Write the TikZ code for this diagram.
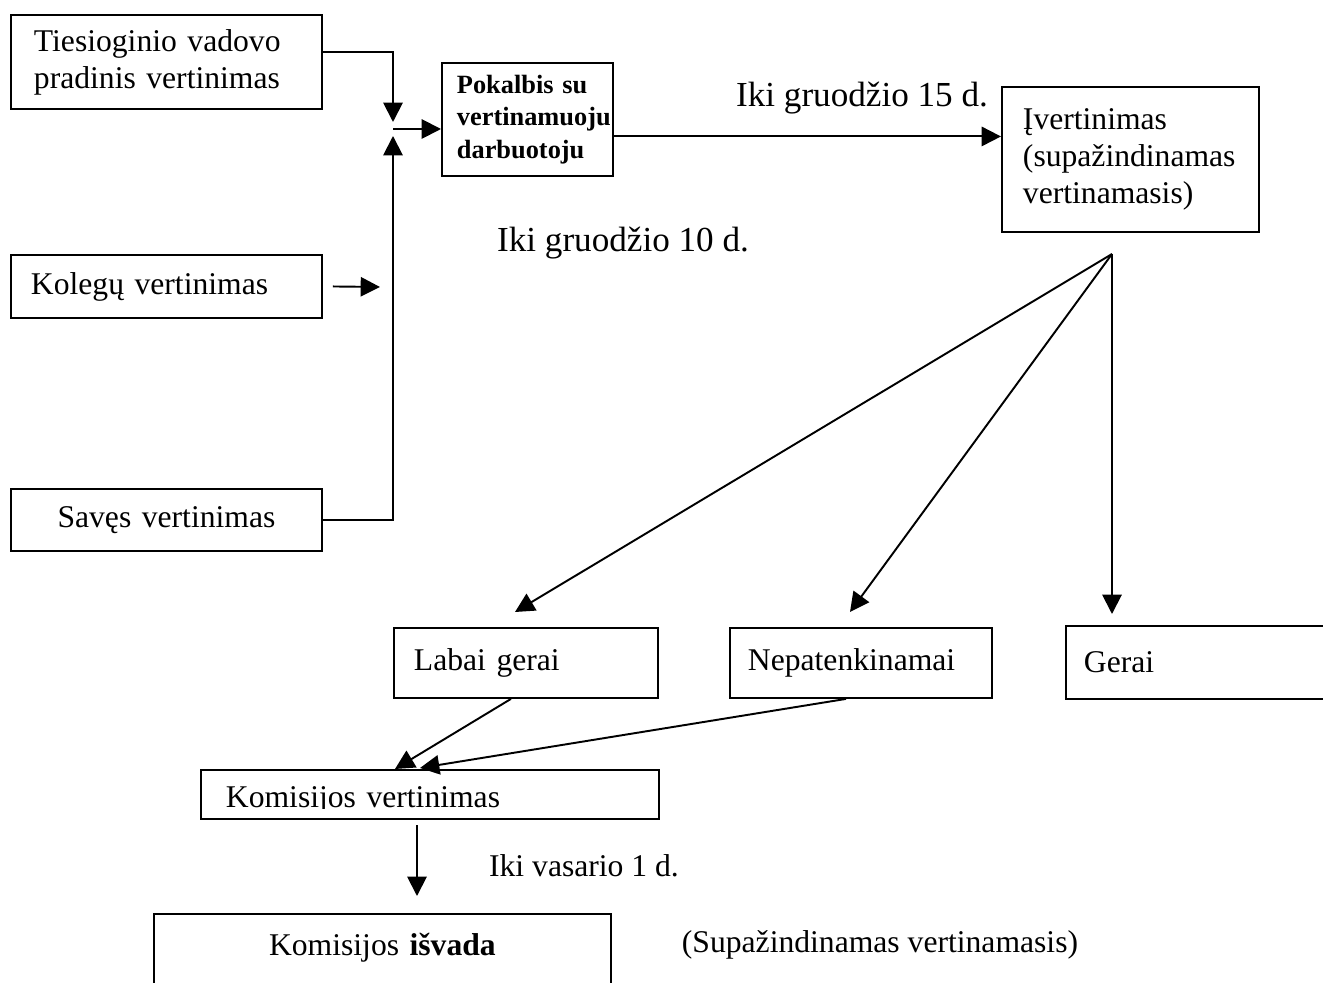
\documentclass[tikz,border=0pt]{standalone}
\usepackage{fontspec}
\setmainfont{Liberation Serif}
\usetikzlibrary{arrows.meta}

\begin{document}
\begin{tikzpicture}[x=0.02cm,y=-0.02cm,
    blk/.style={rectangle,draw,line width=1.1pt,anchor=north west,align=left,
                font=\fontsize{18}{21}\selectfont},
    lbl/.style={font=\fontsize{18}{21}\selectfont},
    arr/.style={line width=1.1pt,-{Triangle[length=11pt,width=11pt]}}]
\useasboundingbox (0,0) rectangle (1323,983);
\clip (0,0) rectangle (1323,983);
% left column
\node (tiesioginis) at (10,14)  [blk,text width=5.3cm,inner xsep=0.46cm,minimum height=1.88cm] {Tiesioginio vadovo\\pradinis vertinimas};
\node (kolegos)     at (10,254) [blk,text width=5.42cm,inner xsep=0.4cm,minimum height=1.26cm] {Kolegų vertinimas};
\node (saves)       at (10,488) [blk,align=center,text width=5.42cm,inner xsep=0.4cm,minimum height=1.24cm] {Savęs vertinimas};
% top row
\node (pokalbis)    at (441,62) [blk,text width=2.82cm,inner xsep=0.3cm,minimum height=2.26cm,
                                 font=\fontsize{15}{18.5}\selectfont\bfseries] {Pokalbis su\\vertinamuoju\\darbuotoju};
\node (ivertinimas) at (1001,86) [blk,text width=4.3cm,inner xsep=0.42cm,minimum height=2.9cm] {Įvertinimas\\(supažindinamas\\vertinamasis)};
% results
\node (labai)       at (393,627)  [blk,text width=4.48cm,inner xsep=0.4cm,minimum height=1.4cm] {Labai gerai};
\node (nepat)       at (729,627)  [blk,text width=4.52cm,inner xsep=0.36cm,minimum height=1.4cm] {Nepatenkinamai};
\node (gerai)       at (1065,625) [blk,text width=4.44cm,inner xsep=0.36cm,minimum height=1.46cm] {Gerai};
% commission
\begin{scope}
\clip (150,760) rectangle (700,808);
\node (komisija) at (201,770) [blk,draw=none,text width=8.16cm,inner xsep=0.48cm,minimum height=0.94cm] {\raisebox{-0.27cm}[0pt][0pt]{Komisijos vertinimas}};
\end{scope}
\draw [line width=1.1pt] (komisija.north west) rectangle (komisija.south east);
\node (isvada) at (153,913) [blk,align=center,text width=8.6cm,inner xsep=0.27cm,inner ysep=11pt,
                             text height=12.4pt,text depth=2cm] {Komisijos \textbf{išvada}};
% labels
\node (gruod15) at (862,98)  [lbl,font=\fontsize{20}{24}\selectfont] {Iki gruodžio 15 d.};
\node (gruod10) at (623,243) [lbl,font=\fontsize{20}{24}\selectfont] {Iki gruodžio 10 d.};
\node (vasario) at (584,866) [lbl] {Iki vasario 1 d.};
\node (supaz)   at (880,945) [lbl] {(Supažindinamas vertinamasis)};
% joints and tips
\coordinate (topTip) at (393,122);
\coordinate (botTip) at (393,136);
\coordinate (joint)  at (393,129);
\coordinate (kolTip) at (380,287);
\coordinate (fan)    at (1112,254);
\coordinate (tLabai) at (515,612);
\coordinate (tNepat) at (850,612);
\coordinate (tGerai) at (1112,614);
\coordinate (kTipA)  at (395,769);
\coordinate (kTipB)  at (420,768);
\coordinate (dTop)   at (417,825);
\coordinate (dTip)   at (417,896);
% connectors
\draw [arr] ([yshift=0.2cm]tiesioginis.east) -| (topTip);
\draw [arr] (saves.east) -| (botTip);
\draw [arr] ([xshift=0.2cm]kolegos.east) -- (kolTip);
\draw [arr] (joint) -- (joint -| pokalbis.west);
\draw [arr] ([yshift=-0.34cm]pokalbis.east) -- ([yshift=-0.34cm]pokalbis.east -| ivertinimas.west);
\draw [arr] (fan) -- (tLabai);
\draw [arr] (fan) -- (tNepat);
\draw [arr] (fan) -- (tGerai);
\draw [arr] ([xshift=-0.3cm]labai.south) -- (kTipA);
\draw [arr] ([xshift=-0.3cm]nepat.south) -- (kTipB);
\draw [arr] (dTop) -- (dTip);
\end{tikzpicture}
\end{document}
